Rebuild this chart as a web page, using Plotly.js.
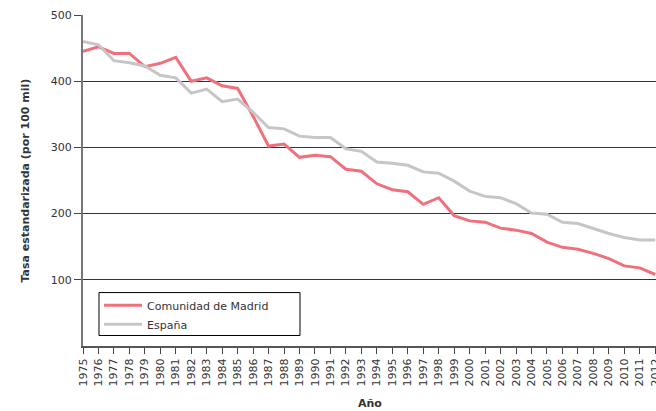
<!DOCTYPE html>
<html>
<head>
<meta charset="utf-8">
<script src="https://cdn.plot.ly/plotly-3.0.1.min.js"></script>
<style>html,body{margin:0;padding:0;background:#fff;overflow:hidden}</style>
</head>
<body>
<div id="chart" style="width:656px;height:411px"></div>
<script>
const years = ["1975","1976","1977","1978","1979","1980","1981","1982","1983","1984","1985","1986","1987","1988","1989","1990","1991","1992","1993","1994","1995","1996","1997","1998","1999","2000","2001","2002","2003","2004","2005","2006","2007","2008","2009","2010","2011","2012"];
const madrid = [445,452,442,442,422,427,436,400,405,393,389,347,302,305,285,288,286,267,264,245,236,233,214,224,197,189,187,178,175,170,157,149,146,140,132,121,118,108];
const espana = [460,455,431,428,423,409,405,382,388,369,373,353,330,328,317,315,315,298,294,278,276,273,263,261,249,234,226,224,215,201,199,187,185,177,170,164,160,160];
const yTicks = [100,200,300,400,500];

const fontFam = "DejaVu Sans, Verdana, sans-serif";
const data = [
  {x: years, y: madrid, type: 'scatter', mode: 'lines', name: 'Comunidad de Madrid',
   line: {color: '#f0707b', width: 3}},
  {x: years, y: espana, type: 'scatter', mode: 'lines', name: 'España',
   line: {color: '#c6c6c6', width: 3}}
];
const layout = {
  width: 656, height: 411,
  margin: {l: 83, r: 0, t: 15, b: 65, pad: 0},
  paper_bgcolor: '#fff', plot_bgcolor: '#fff',
  font: {family: fontFam, size: 11, color: '#333'},
  showlegend: true,
  legend: {x: 0.028, y: 0.167, xanchor: 'left', yanchor: 'top',
    borderwidth: 0, bgcolor: 'rgba(0,0,0,0)',
    itemwidth: 38,
    font: {family: fontFam, size: 11, color: '#333'}, tracegroupgap: 0},
  shapes: [
    {type: 'rect', xref: 'paper', yref: 'paper', x0: 0.0279, x1: 0.3787, y0: 0.0317, y1: 0.1614,
     line: {color: '#000', width: 1}, fillcolor: '#fff', layer: 'above'}
  ],
  xaxis: {type: 'category', range: [0, 37.05], tickangle: -90,
    ticks: 'outside', ticklen: 6, tickcolor: '#444', tickwidth: 1,
    showgrid: false, showline: true, linecolor: '#555', linewidth: 2,
    zeroline: false, fixedrange: true,
    tickfont: {family: fontFam, size: 11, color: '#333'}},
  yaxis: {range: [0, 500], tickvals: yTicks, ticktext: yTicks.map(String),
    ticks: 'outside', ticklen: 7, tickcolor: '#444', tickwidth: 1,
    showgrid: true, gridcolor: '#333', gridwidth: 1.3,
    showline: true, linecolor: '#777', linewidth: 2,
    zeroline: false, fixedrange: true,
    tickfont: {family: fontFam, size: 11, color: '#333'}},
  annotations: [
    {text: '<b>Tasa estandarizada (por 100 mil)</b>', xref: 'paper', yref: 'paper',
     x: 0, y: 0.5, xshift: -58, textangle: -90, showarrow: false,
     xanchor: 'center', yanchor: 'middle', font: {family: fontFam, size: 11, color: '#333'}},
    {text: '<b>Año</b>', xref: 'paper', yref: 'paper', x: 0.5, y: 0, yshift: -57,
     showarrow: false, xanchor: 'center', yanchor: 'middle',
     font: {family: fontFam, size: 11, color: '#333'}}
  ]
};
Plotly.newPlot('chart', data, layout, {displayModeBar: false, staticPlot: true});
</script>
</body>
</html>
